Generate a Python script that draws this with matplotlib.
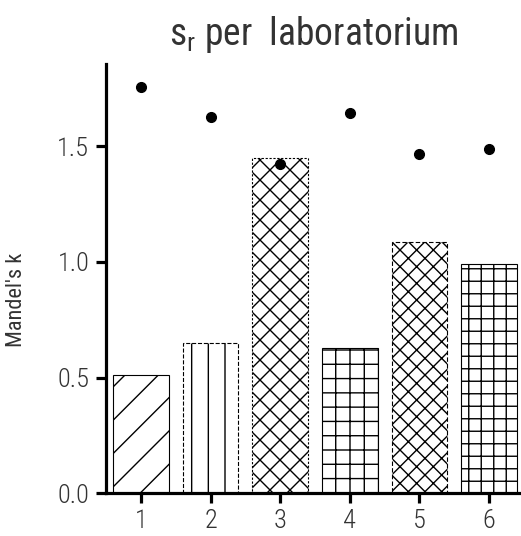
"""Mandel's k (repeatability) per laboratory: hatched bars plus critical-value dots."""
import matplotlib
matplotlib.use("Agg")
import matplotlib.pyplot as plt
from matplotlib.backend_bases import GraphicsContextBase

plt.rcParams["font.family"] = ["Roboto Condensed", "DejaVu Sans"]
plt.rcParams["font.weight"] = "light"
plt.rcParams["mathtext.default"] = "regular"
plt.rcParams["hatch.linewidth"] = 1.0

# the reference hatching is much coarser than matplotlib's default (6 lines / inch per symbol)
_hatch_path = GraphicsContextBase.get_hatch_path
GraphicsContextBase.get_hatch_path = lambda self, density=6.0: _hatch_path(self, density=1.0)

labs = [1, 2, 3, 4, 5, 6]
mandel_k = [0.512, 0.651, 1.447, 0.626, 1.084, 0.990]
k_limit = [1.756, 1.624, 1.424, 1.644, 1.464, 1.486]
hatches = ["/" * 6, "|" * 6, "x" * 10, "+" * 7, "x" * 12, "+" * 8]
edge_styles = ["-", "--", (0, (2, 1.5)), "-", (0, (4, 2)), "-"]
y_ticks = [0.0, 0.5, 1.0, 1.5]

fig = plt.figure(figsize=(5.21, 5.36), dpi=100)
ax = fig.add_axes([106 / 521, 1 - 493.3 / 536, 1 - 106 / 521, (493.3 - 64) / 536])

for x, h, hatch, ls in zip(labs, mandel_k, hatches, edge_styles):
    ax.bar(x, h, width=0.8, facecolor="white", edgecolor="black",
           hatch=hatch, linewidth=0.8, linestyle=ls, zorder=2)

ax.plot(labs, k_limit, "o", color="black", ms=7, zorder=3)

ax.set_xlim(0.497, 6.46)
ax.set_ylim(0, 1.855)
ax.set_xticks(labs)
ax.set_yticks(y_ticks)
ax.set_yticklabels([f"{v:.1f}" for v in y_ticks])

for side in ("top", "right"):
    ax.spines[side].set_visible(False)
for side in ("left", "bottom"):
    ax.spines[side].set_linewidth(2.3)
ax.tick_params(axis="both", direction="out", length=7, width=2.3,
               labelsize=19, colors="black", labelcolor="#333333")
ax.tick_params(axis="x", pad=4)
ax.tick_params(axis="y", pad=5)

ax.set_ylabel("Mandel's k", fontsize=16, color="#333333")
ax.yaxis.set_label_coords(-0.19, 0.45)
ax.set_title("$s_r$ per  laboratorium", fontsize=27, color="#333333", pad=14)

fig.savefig("out.png", dpi=100)
